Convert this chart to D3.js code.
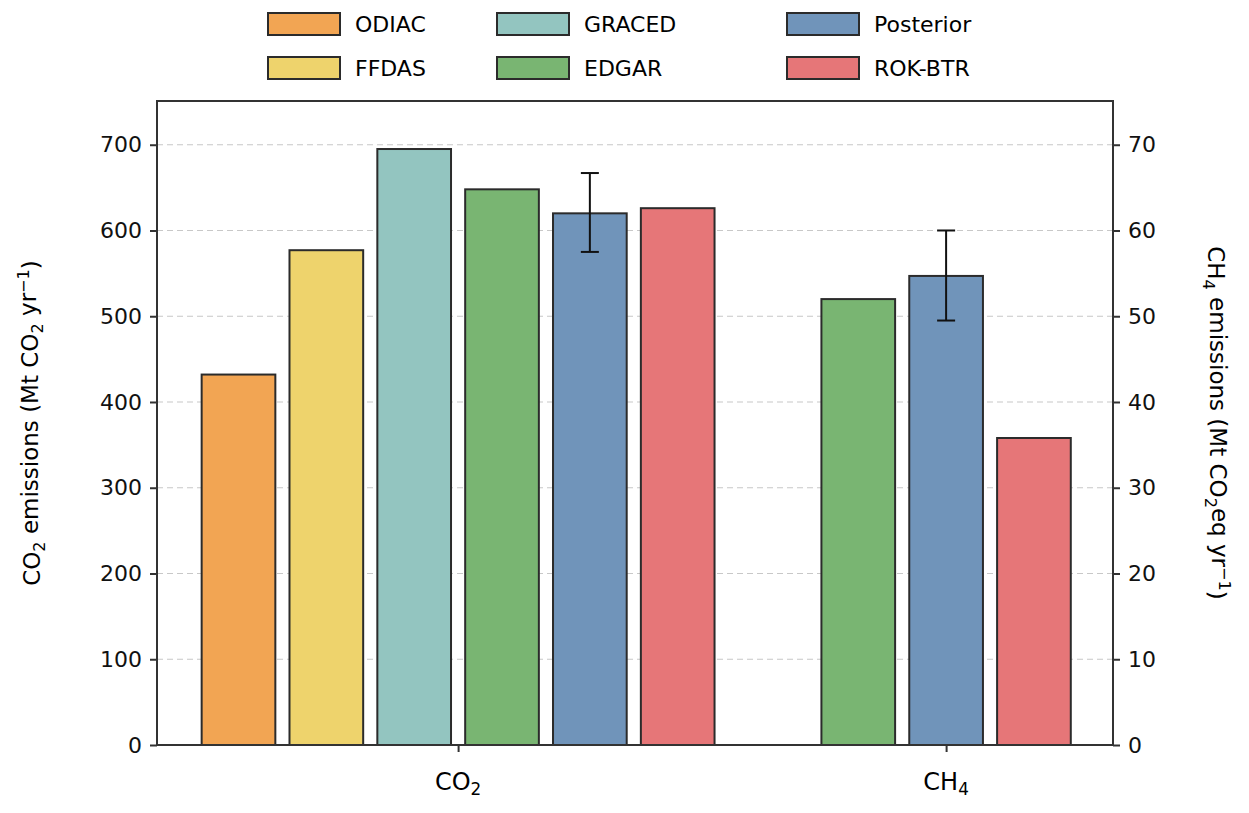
<!DOCTYPE html>
<html><head><meta charset="utf-8">
<script src="https://cdn.jsdelivr.net/npm/d3@7"></script>
<style>body{margin:0;background:#fff;font-family:"DejaVu Sans",sans-serif;}</style>
</head><body>
<svg id="chart" width="1249" height="813"></svg>
<script>
// data
var sources = ["ODIAC", "FFDAS", "GRACED", "EDGAR", "Posterior", "ROK-BTR"];
var colors = ["#f2a553", "#eed36c", "#93c5c0", "#79b572", "#7094ba", "#e67678"];
var co2Values = [432, 577, 695, 648, 620, 626];
var co2Err = [null, null, null, null, [575, 667], null];
var ch4Sources = ["EDGAR", "Posterior", "ROK-BTR"];
var ch4Values = [52.0, 54.7, 35.8];
var ch4Err = [null, [49.5, 60.0], null];
var leftTicks = [0, 100, 200, 300, 400, 500, 600, 700];
var rightTicks = [0, 10, 20, 30, 40, 50, 60, 70];

var svg = d3.select("#chart");
var margin = {left: 157, right: 1113, top: 101, bottom: 745};

var x = d3.scaleLinear().domain([-0.617, 1.342]).range([margin.left, margin.right]);
var yL = d3.scaleLinear().domain([0, 751]).range([margin.bottom, margin.top]);
var yR = d3.scaleLinear().domain([0, 75.1]).range([margin.bottom, margin.top]);
var step = 0.18, bw = 0.151;

// grid
svg.append("g").selectAll("line").data(leftTicks.slice(1)).enter().append("line")
    .attr("x1", margin.left).attr("x2", margin.right)
    .attr("y1", function(d){ return yL(d); }).attr("y2", function(d){ return yL(d); })
    .attr("stroke", "#c8c8c8").attr("stroke-dasharray", "6,4").attr("stroke-width", 1.2);

function drawBars(names, vals, errs, center, offset0, scale) {
    var g = svg.append("g");
    names.forEach(function(n, i) {
        var cx = center + (offset0 + i) * step;
        var c = colors[sources.indexOf(n)];
        g.append("rect")
            .attr("x", x(cx - bw / 2)).attr("width", x(bw) - x(0))
            .attr("y", scale(vals[i])).attr("height", scale(0) - scale(vals[i]))
            .attr("fill", c).attr("stroke", "#2b2b2b").attr("stroke-width", 2);
        if (errs[i]) {
            var px = x(cx);
            g.append("line").attr("x1", px).attr("x2", px)
                .attr("y1", scale(errs[i][0])).attr("y2", scale(errs[i][1]))
                .attr("stroke", "#111").attr("stroke-width", 2);
            errs[i].forEach(function(v) {
                g.append("line").attr("x1", px - 9).attr("x2", px + 9)
                    .attr("y1", scale(v)).attr("y2", scale(v))
                    .attr("stroke", "#111").attr("stroke-width", 2);
            });
        }
    });
}
drawBars(sources, co2Values, co2Err, 0, -2.5, yL);
drawBars(ch4Sources, ch4Values, ch4Err, 1, -1, yR);

// frame
svg.append("rect").attr("x", margin.left).attr("y", margin.top)
    .attr("width", margin.right - margin.left).attr("height", margin.bottom - margin.top)
    .attr("fill", "none").attr("stroke", "#333").attr("stroke-width", 2);

// axes
var ax = svg.append("g").attr("transform", "translate(" + margin.left + ",0)")
    .call(d3.axisLeft(yL).tickValues(leftTicks).tickSize(7).tickPadding(8));
var axR = svg.append("g").attr("transform", "translate(" + margin.right + ",0)")
    .call(d3.axisRight(yR).tickValues(rightTicks).tickSize(7).tickPadding(8));
var axB = svg.append("g").attr("transform", "translate(0," + margin.bottom + ")")
    .call(d3.axisBottom(x).tickValues([0, 1]).tickSize(7).tickFormat(function(){ return ""; }));
[ax, axR, axB].forEach(function(a) {
    a.select(".domain").remove();
    a.selectAll("line").attr("stroke", "#333").attr("stroke-width", 2);
    a.selectAll("text").attr("font-size", 22).attr("fill", "#111").attr("font-family", "DejaVu Sans");
});

// category labels with subscripts
function subLabel(parent, base, sub, post) {
    parent.append("tspan").text(base);
    parent.append("tspan").text(sub).attr("font-size", "0.7em").attr("dy", "0.3em");
    if (post !== undefined) parent.append("tspan").text(post).attr("dy", "-0.3em");
}
var t1 = svg.append("text").attr("x", x(0)).attr("y", 790).attr("text-anchor", "middle").attr("font-size", 24);
subLabel(t1, "CO", "2");
var t2 = svg.append("text").attr("x", x(1)).attr("y", 790).attr("text-anchor", "middle").attr("font-size", 24);
subLabel(t2, "CH", "4");

// y labels
var yl = svg.append("text").attr("transform", "translate(40,423) rotate(-90)")
    .attr("text-anchor", "middle").attr("font-size", 23);
yl.append("tspan").text("CO");
yl.append("tspan").text("2").attr("font-size", "0.7em").attr("dy", "0.3em");
yl.append("tspan").text(" emissions (Mt CO").attr("dy", "-0.3em");
yl.append("tspan").text("2").attr("font-size", "0.7em").attr("dy", "0.3em");
yl.append("tspan").text(" yr").attr("dy", "-0.3em");
yl.append("tspan").text("\u22121").attr("font-size", "0.7em").attr("dy", "-0.45em");
yl.append("tspan").text(")").attr("dy", "0.45em");

var yr = svg.append("text").attr("transform", "translate(1208,423) rotate(90)")
    .attr("text-anchor", "middle").attr("font-size", 23);
yr.append("tspan").text("CH");
yr.append("tspan").text("4").attr("font-size", "0.7em").attr("dy", "0.3em");
yr.append("tspan").text(" emissions (Mt CO").attr("dy", "-0.3em");
yr.append("tspan").text("2").attr("font-size", "0.7em").attr("dy", "0.3em");
yr.append("tspan").text("eq yr").attr("dy", "-0.3em");
yr.append("tspan").text("\u22121").attr("font-size", "0.7em").attr("dy", "-0.45em");
yr.append("tspan").text(")").attr("dy", "0.45em");

// legend
var legCols = [268, 497, 787];
var legOrder = [["ODIAC", "FFDAS"], ["GRACED", "EDGAR"], ["Posterior", "ROK-BTR"]];
legOrder.forEach(function(col, ci) {
    col.forEach(function(n, ri) {
        var yy = 24 + ri * 44;
        svg.append("rect").attr("x", legCols[ci]).attr("y", yy - 11).attr("width", 72).attr("height", 22)
            .attr("fill", colors[sources.indexOf(n)]).attr("stroke", "#2b2b2b").attr("stroke-width", 2);
        svg.append("text").attr("x", legCols[ci] + 87).attr("y", yy + 8).attr("font-size", 22).text(n);
    });
});
</script>
</body></html>
